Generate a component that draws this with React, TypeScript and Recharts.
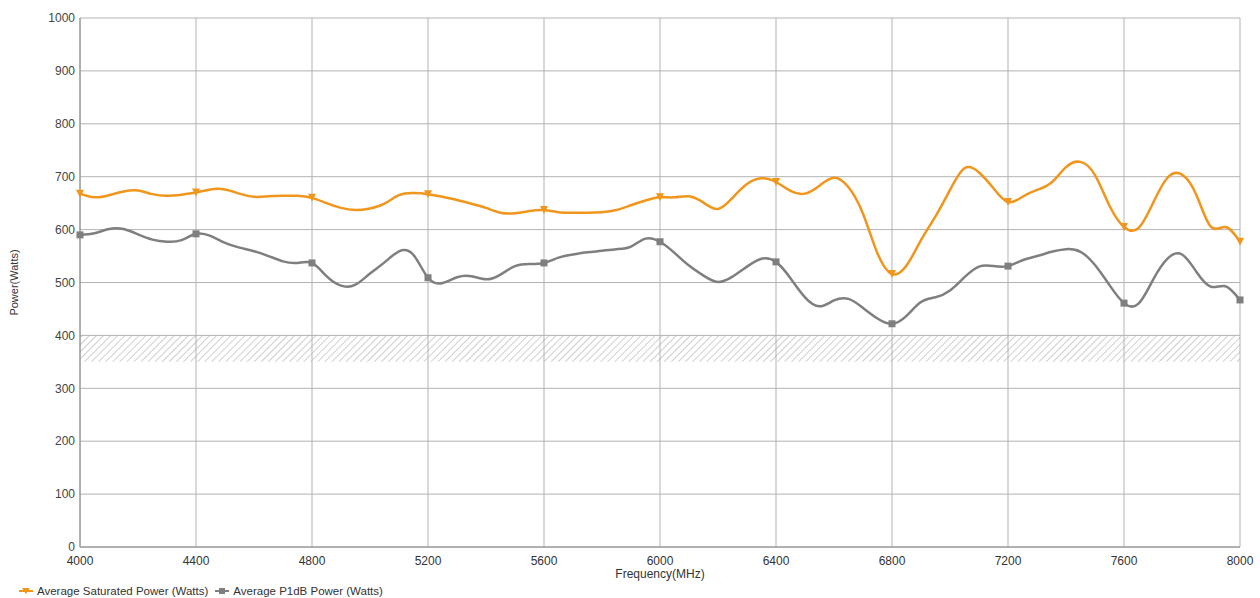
import React from "react";
import {
  LineChart,
  Line,
  XAxis,
  YAxis,
  CartesianGrid,
  ReferenceArea,
} from "recharts";

// frequency samples, 50 MHz apart
const FREQS = [
  4000, 4050, 4100, 4150, 4200, 4250, 4300, 4350, 4400, 4450, 4500, 4550,
  4600, 4650, 4700, 4750, 4800, 4850, 4900, 4950, 5000, 5050, 5100, 5150,
  5200, 5250, 5300, 5350, 5400, 5450, 5500, 5550, 5600, 5650, 5700, 5750,
  5800, 5850, 5900, 5950, 6000, 6050, 6100, 6150, 6200, 6250, 6300, 6350,
  6400, 6450, 6500, 6550, 6600, 6650, 6700, 6750, 6800, 6850, 6900, 6950,
  7000, 7050, 7100, 7150, 7200, 7250, 7300, 7350, 7400, 7450, 7500, 7550,
  7600, 7650, 7700, 7750, 7800, 7850, 7900, 7950, 8000,
];

const SATURATED = [
  668, 661, 665, 672, 674, 667, 664, 666, 670, 676, 676, 668,
  662, 663, 664, 664, 660, 650, 641, 637, 640, 649, 665, 669,
  667, 662, 656, 649, 641, 632, 631, 635, 637, 633, 632, 632,
  633, 637, 646, 655, 661, 661, 663, 651, 639, 660, 686, 697,
  690, 673, 668, 683, 698, 680, 630, 555, 516, 532, 580, 625,
  675, 716, 708, 678, 652, 662, 675, 689, 718, 728, 703, 645,
  605, 603, 650, 698, 704, 665, 605, 605, 577,
];

const P1DB = [
  590, 593, 601, 601, 591, 581, 577, 580, 592, 588, 575, 566,
  559, 550, 540, 537, 537, 512, 494, 496, 517, 538, 559, 552,
  509, 499, 510, 512, 506, 515, 531, 535, 537, 547, 553, 557,
  560, 563, 568, 583, 577, 556, 532, 513, 501, 511, 530, 545,
  539, 508, 472, 455, 466, 469, 452, 432, 422, 437, 463, 472,
  485, 510, 530, 531, 531, 542, 550, 558, 563, 558, 533, 495,
  461, 460, 505, 545, 553, 520, 492, 493, 467,
];

const X_TICKS = [4000, 4400, 4800, 5200, 5600, 6000, 6400, 6800, 7200, 7600, 8000];
const Y_TICKS = [0, 100, 200, 300, 400, 500, 600, 700, 800, 900, 1000];
const BAND = [350, 400];

const ORANGE = "#F0961C";
const GRAY = "#7f7f7f";
const FONT = "'Liberation Sans', Arial, sans-serif";

const data = FREQS.map((f, i) => ({
  freq: f,
  sat: SATURATED[i],
  p1db: P1DB[i],
}));

// markers only every 400 MHz
const TriangleDot = (props: any) => {
  const { cx, cy, payload, index } = props;
  if (payload.freq % 400 !== 0) return <g key={`t-${index}`} />;
  return (
    <path
      key={`t-${index}`}
      d={`M${cx - 4},${cy - 4}L${cx + 4},${cy - 4}L${cx},${cy + 4}Z`}
      fill={ORANGE}
    />
  );
};

const SquareDot = (props: any) => {
  const { cx, cy, payload, index } = props;
  if (payload.freq % 400 !== 0) return <g key={`s-${index}`} />;
  return (
    <rect
      key={`s-${index}`}
      x={cx - 3.5}
      y={cy - 3.5}
      width={7}
      height={7}
      fill={GRAY}
    />
  );
};

const LegendItem = ({ color, label, square }: { color: string; label: string; square?: boolean }) => (
  <span style={{ display: "inline-flex", alignItems: "center", marginRight: 6 }}>
    <svg width={16} height={10} style={{ marginRight: 3 }}>
      <line x1={1} y1={5} x2={15} y2={5} stroke={color} strokeWidth={2} />
      {square ? (
        <rect x={5} y={2} width={6} height={6} fill={color} />
      ) : (
        <path d="M4,2L12,2L8,8Z" fill={color} />
      )}
    </svg>
    {label}
  </span>
);

export default function App() {
  return (
    <div
      style={{
        position: "absolute",
        left: 0,
        top: 0,
        width: 1260,
        height: 598,
        background: "#fff",
        fontFamily: FONT,
      }}
    >
      <LineChart
        width={1260}
        height={598}
        data={data}
        margin={{ top: 18, right: 20, bottom: 21, left: 0 }}
      >
        <defs>
          <pattern
            id="hatch"
            width="5"
            height="5"
            patternUnits="userSpaceOnUse"
            patternTransform="rotate(45)"
          >
            <line x1="0" y1="0" x2="0" y2="5" stroke="#a0a0a0" strokeWidth="1" />
          </pattern>
        </defs>
        <CartesianGrid stroke="#b3b3b3" strokeWidth={1} />
        <ReferenceArea
          y1={BAND[0]}
          y2={BAND[1]}
          fill="url(#hatch)"
          fillOpacity={1}
          stroke="none"
        />
        <XAxis
          dataKey="freq"
          type="number"
          domain={[4000, 8000]}
          ticks={X_TICKS}
          tickLine={false}
          tickSize={0}
          tickMargin={9}
          height={30}
          axisLine={{ stroke: "#888" }}
          tick={{ fontSize: 12, fill: "#333", fontFamily: FONT }}
          label={{
            value: "Frequency(MHz)",
            position: "insideBottom",
            offset: -1,
            fontSize: 12,
            fill: "#333",
            fontFamily: FONT,
          }}
        />
        <YAxis
          type="number"
          domain={[0, 1000]}
          ticks={Y_TICKS}
          width={80}
          tickLine={false}
          tickSize={0}
          tickMargin={5}
          axisLine={{ stroke: "#888" }}
          tick={{ fontSize: 12, fill: "#444", fontFamily: FONT }}
          label={{
            value: "Power(Watts)",
            angle: -90,
            position: "insideLeft",
            offset: 14,
            fontSize: 11,
            fill: "#333",
            fontFamily: FONT,
            style: { textAnchor: "middle" },
          }}
        />
        <Line
          dataKey="sat"
          type="natural"
          stroke={ORANGE}
          strokeWidth={2.5}
          dot={TriangleDot}
          activeDot={false}
          isAnimationActive={false}
        />
        <Line
          dataKey="p1db"
          type="natural"
          stroke={GRAY}
          strokeWidth={2.5}
          dot={SquareDot}
          activeDot={false}
          isAnimationActive={false}
        />
      </LineChart>
      <div
        style={{
          position: "absolute",
          left: 18,
          top: 585,
          fontSize: 11.5,
          color: "#333",
          display: "flex",
          alignItems: "center",
          whiteSpace: "nowrap",
        }}
      >
        <LegendItem color={ORANGE} label="Average Saturated Power (Watts)" />
        <LegendItem color={GRAY} label="Average P1dB Power (Watts)" square />
      </div>
    </div>
  );
}
